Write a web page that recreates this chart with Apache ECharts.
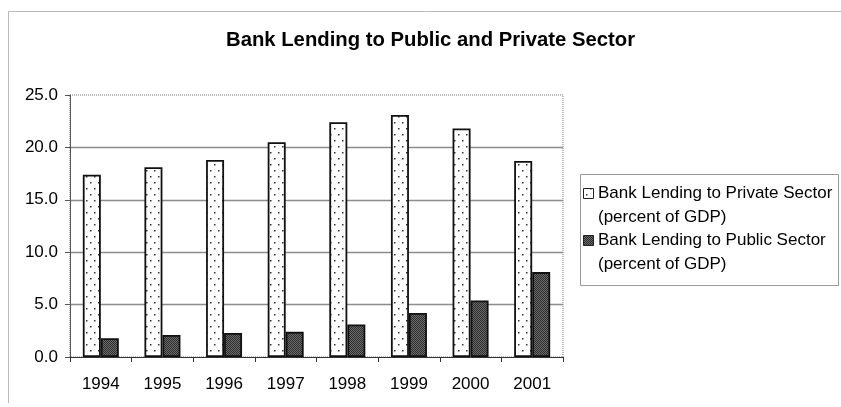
<!DOCTYPE html>
<html>
<head>
<meta charset="utf-8">
<script src="https://cdn.jsdelivr.net/npm/echarts@6/dist/echarts.min.js"></script>
<style>
html,body{margin:0;padding:0;background:#fff;}
#chart{width:841px;height:407px;}
</style>
</head>
<body>
<div id="chart"></div>
<script>
var categories = ['1994','1995','1996','1997','1998','1999','2000','2001'];
var privateSector = [17.4, 18.1, 18.8, 20.5, 22.4, 23.1, 21.8, 18.7];
var publicSector = [1.8, 2.1, 2.3, 2.4, 3.1, 4.2, 5.4, 8.1];
var seriesNames = ['Bank Lending to Private Sector', 'Bank Lending to Public Sector'];
var seriesSubtitle = '(percent of GDP)';
var yTicks = [0, 5, 10, 15, 20, 25];

function dotPattern() {
  var c = document.createElement('canvas');
  c.width = 8; c.height = 12;
  var g = c.getContext('2d');
  g.fillStyle = '#ffffff'; g.fillRect(0, 0, 8, 12);
  g.fillStyle = '#333';
  g.fillRect(2, 2, 1.5, 1.5);
  g.fillRect(6, 8, 1.5, 1.5);
  return c;
}
function hatchPattern() {
  var c = document.createElement('canvas');
  c.width = 2; c.height = 2;
  var g = c.getContext('2d');
  g.fillStyle = '#6a6a6a'; g.fillRect(0, 0, 2, 2);
  g.fillStyle = '#2e2e2e';
  g.fillRect(0, 0, 1, 1);
  g.fillRect(1, 1, 1, 1);
  return c;
}
var privFill = { image: dotPattern(), repeat: 'repeat' };
var pubFill = { image: hatchPattern(), repeat: 'repeat' };

var font = '"Liberation Sans", Arial, sans-serif';
var chart = echarts.init(document.getElementById('chart'), null, { renderer: 'canvas' });

chart.setOption({
  animation: false,
  backgroundColor: '#fff',
  title: {
    text: 'Bank Lending to Public and Private Sector',
    left: 221, top: 25,
    textStyle: { fontFamily: font, fontSize: 20.3, fontWeight: 'bold', color: '#000' }
  },
  grid: {
    left: 70, right: 278, top: 95, bottom: 50,
    show: true, borderColor: '#777', borderWidth: 1, borderType: 'dotted'
  },
  xAxis: {
    type: 'category',
    data: categories,
    axisLine: { lineStyle: { color: '#333', width: 1 } },
    axisTick: { show: true, length: 5, lineStyle: { color: '#333' } },
    axisLabel: { fontFamily: font, fontSize: 17, color: '#000', margin: 19 }
  },
  yAxis: {
    type: 'value',
    min: 0, max: 25, interval: 5,
    axisLine: { show: true, lineStyle: { color: '#555', width: 1 } },
    axisTick: { show: true, length: 5, lineStyle: { color: '#555' } },
    axisLabel: { fontFamily: font, fontSize: 17, color: '#000', margin: 12,
      formatter: function (v) { return v.toFixed(1); } },
    splitLine: { show: true, showMinLine: false, showMaxLine: false, lineStyle: { color: '#8c8c8c', width: 1.3 } }
  },
  series: [
    {
      name: seriesNames[0], type: 'bar', data: privateSector,
      barWidth: 18, barGap: '0%',
      itemStyle: { color: privFill, borderColor: '#111', borderWidth: 1.8 }
    },
    {
      name: seriesNames[1], type: 'bar', data: publicSector,
      barWidth: 18, barGap: '0%',
      itemStyle: { color: pubFill, borderColor: '#111', borderWidth: 1.8 }
    }
  ],
  graphic: [
    { type: 'line', shape: { x1: 8.5, y1: 11.5, x2: 841, y2: 11.5 }, style: { stroke: '#bbb', lineWidth: 1 }, silent: true },
    { type: 'line', shape: { x1: 8.5, y1: 11.5, x2: 8.5, y2: 403 }, style: { stroke: '#bbb', lineWidth: 1 }, silent: true },
    { type: 'rect', shape: { x: 580.5, y: 174.5, width: 258, height: 111 }, style: { fill: '#fff', stroke: '#999', lineWidth: 1 }, silent: true },
    { type: 'rect', shape: { x: 583.5, y: 188.5, width: 10, height: 10 }, style: { fill: privFill, stroke: '#222', lineWidth: 1 }, silent: true },
    { type: 'rect', shape: { x: 583.5, y: 235.5, width: 10, height: 10 }, style: { fill: pubFill, stroke: '#222', lineWidth: 1 }, silent: true },
    { type: 'text', x: 598, y: 193, style: { text: seriesNames[0], font: '17px ' + font, fill: '#000', verticalAlign: 'middle' }, silent: true },
    { type: 'text', x: 598, y: 217, style: { text: seriesSubtitle, font: '17px ' + font, fill: '#000', verticalAlign: 'middle' }, silent: true },
    { type: 'text', x: 598, y: 240, style: { text: seriesNames[1], font: '17px ' + font, fill: '#000', verticalAlign: 'middle' }, silent: true },
    { type: 'text', x: 598, y: 264, style: { text: seriesSubtitle, font: '17px ' + font, fill: '#000', verticalAlign: 'middle' }, silent: true }
  ]
});
</script>
</body>
</html>
